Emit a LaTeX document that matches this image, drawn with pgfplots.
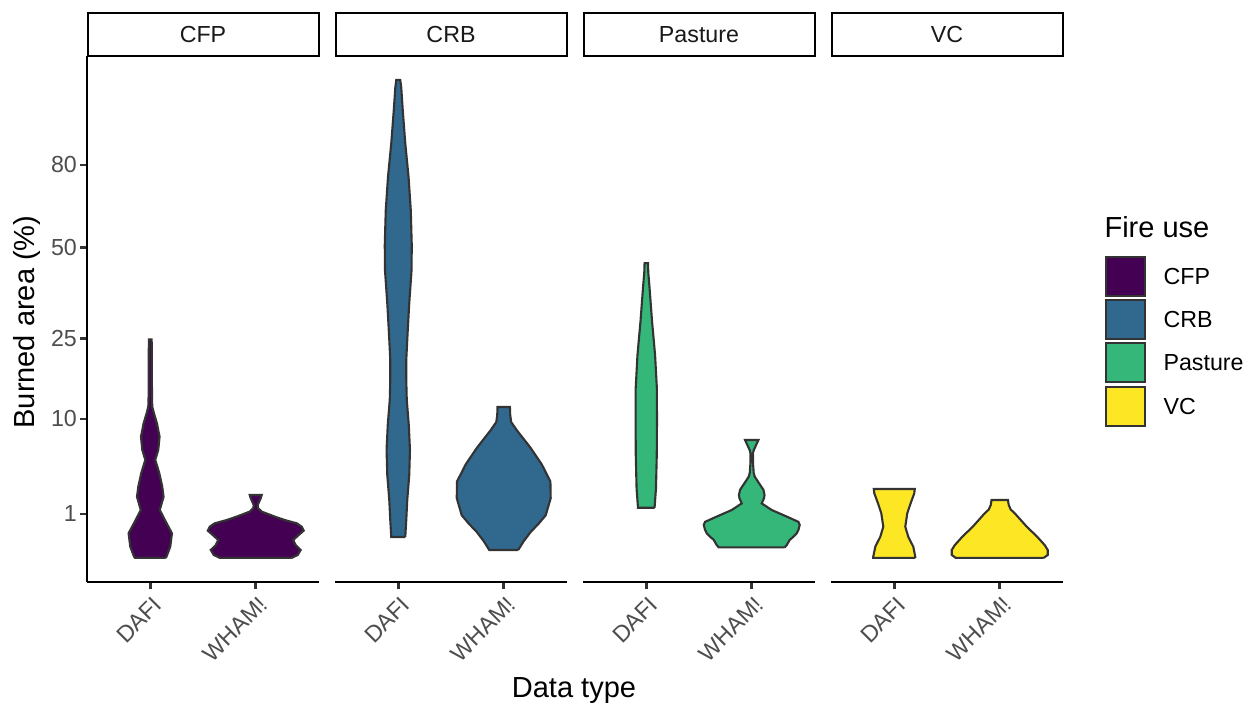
\documentclass[border=0pt]{standalone}
\usepackage{pgfplots}
\pgfplotsset{compat=1.18}
\usepackage{pgfplotstable}
\usepackage{fontspec}
\setmainfont{Liberation Sans}
\definecolor{cfp}{HTML}{440154}
\definecolor{crb}{HTML}{31688E}
\definecolor{pas}{HTML}{35B779}
\definecolor{vc}{HTML}{FDE725}
\definecolor{g20}{HTML}{333333}
\definecolor{g30}{HTML}{4D4D4D}
\newcommand\tfont{\fontsize{8.8}{10.5}\selectfont}
\newcommand\Tfont{\fontsize{11}{13}\selectfont}

% violin outlines: w = signed half width (px), s = sqrt(burned area %)
\pgfplotstableread{
w s
15.3 0
16.3 0.03
20 0.255
21.7 0.56
16.3 0.79
9.5 1.09
13.3 1.39
12 1.62
9 1.93
5 2.23
8 2.46
9.3 2.76
6.7 3.06
3.7 3.29
2 3.44
1.7 3.67
1.6 4.43
1.4 4.97
-1.4 4.97
-1.6 4.43
-1.7 3.67
-2 3.44
-3.7 3.29
-6.7 3.06
-9.3 2.76
-8 2.46
-5 2.23
-9 1.93
-12 1.62
-13.3 1.39
-9.5 1.09
-16.3 0.79
-21.7 0.56
-20 0.255
-16.3 0.03
-15.3 0
15.3 0
}\cfpdafi
\pgfplotstableread{
w s
36 0
42 0.066
45 0.18
40 0.29
37.5 0.407
43 0.52
48 0.62
46 0.71
41 0.787
29 0.862
19 0.94
6 1.053
2.5 1.129
2 1.204
3.5 1.28
5 1.356
6 1.432
-6 1.432
-5 1.356
-3.5 1.28
-2 1.204
-2.5 1.129
-6 1.053
-19 0.94
-29 0.862
-41 0.787
-46 0.71
-48 0.62
-43 0.52
-37.5 0.407
-40 0.29
-45 0.18
-42 0.066
-36 0
36 0
}\cfpwham
\pgfplotstableread{
w s
7 0.476
8 0.86
9 1.32
11 1.89
11.7 2.46
10.5 3.03
8.5 3.60
8 4.05
8 4.51
9.5 5.19
11 5.80
13.3 6.55
13.5 7.12
12.5 7.92
10.3 8.67
7 9.44
4.5 10.19
3 10.7
2 10.88
-2 10.88
-3 10.7
-4.5 10.19
-7 9.44
-10.3 8.67
-12.5 7.92
-13.5 7.12
-13.3 6.55
-11 5.80
-9.5 5.19
-8 4.51
-8 4.05
-8.5 3.60
-10.5 3.03
-11.7 2.46
-11 1.89
-9 1.32
-8 0.86
-7 0.476
7 0.476
}\crbdafi
\pgfplotstableread{
w s
14.5 0.18
20 0.38
27 0.59
35 0.78
42 0.97
47 1.36
46.7 1.74
38 2.13
26.7 2.51
13.3 2.90
7.5 3.09
6.5 3.25
6.2 3.435
-6.2 3.435
-6.5 3.25
-7.5 3.09
-13.3 2.90
-26.7 2.51
-38 2.13
-46.7 1.74
-47 1.36
-42 0.97
-35 0.78
-27 0.59
-20 0.38
-14.5 0.18
14.5 0.18
}\crbwham
\pgfplotstableread{
w s
8.3 1.14
9.7 1.58
10.5 2.34
10.7 3.10
10.6 3.86
8.8 4.62
5.8 5.38
3.3 6.14
2 6.5
1.7 6.71
-1.7 6.71
-2 6.5
-3.3 6.14
-5.8 5.38
-8.8 4.62
-10.6 3.86
-10.7 3.10
-10.5 2.34
-9.7 1.58
-8.3 1.14
8.3 1.14
}\pasdafi
\pgfplotstableread{
w s
33 0.24
35 0.29
38 0.41
41.7 0.48
45 0.56
46.7 0.635
48 0.75
46.7 0.82
35 0.94
20 1.09
10 1.24
12.3 1.36
12.8 1.43
11.7 1.55
6.7 1.72
3 1.85
2 1.93
1.3 2.15
1.2 2.38
2 2.45
5 2.60
6.7 2.684
-6.7 2.684
-5 2.60
-2 2.45
-1.2 2.38
-1.3 2.15
-2 1.93
-3 1.85
-6.7 1.72
-11.7 1.55
-12.8 1.43
-12.3 1.36
-10 1.24
-20 1.09
-35 0.94
-46.7 0.82
-48 0.75
-46.7 0.635
-45 0.56
-41.7 0.48
-38 0.41
-35 0.29
-33 0.24
33 0.24
}\paswham
\pgfplotstableread{
w s
21 0
21 0.03
19 0.255
14 0.48
11 0.71
13 1.015
16.3 1.24
20 1.47
20.5 1.568
-20.5 1.568
-20 1.47
-16.3 1.24
-13 1.015
-11 0.71
-14 0.48
-19 0.255
-21 0.03
-21 0
21 0
}\vcdafi
\pgfplotstableread{
w s
44 0
48 0.066
48 0.18
45 0.29
37.5 0.48
27 0.71
21 0.863
15 1.015
11 1.10
9 1.204
8.2 1.318
-8.2 1.318
-9 1.204
-11 1.10
-15 1.015
-21 0.863
-27 0.71
-37.5 0.48
-45 0.29
-48 0.18
-48 0.066
-44 0
44 0
}\vcwham

\pgfplotsset{
  panel/.style={
    scale only axis, width=87.905pt, height=199.30pt,
    xmin=0.4, xmax=2.6, ymin=-0.549, ymax=11.425,
    axis x line*=bottom,
    axis line style={line width=1pt, black, -},
    xtick={1,2}, xticklabels={DAFI,WHAM!},
    major tick length=2.65pt, tick align=outside,
    tick style={g20, line width=1pt},
    xticklabel style={rotate=45, anchor=north east, font=\tfont, text=g30, inner sep=1pt, yshift=-1pt},
    anchor=south west,
  },
  vio/.style={draw=g20, line width=0.8pt, fill=#1},
}

\begin{document}
\begin{tikzpicture}
\useasboundingbox (0,0) rectangle (474.76pt,-269.02pt);

\begin{axis}[panel, at={(32.964pt,-220.52pt)},
  axis y line*=left,
  ytick={1,3.1623,5,7.0711,8.9443}, yticklabels={1,10,25,50,80},
  yticklabel style={font=\tfont, text=g30, inner sep=1pt}]
\addplot[vio=cfp] table[x expr=1+\thisrow{w}/105.5, y=s] {\cfpdafi};
\addplot[vio=cfp] table[x expr=2+\thisrow{w}/105.5, y=s] {\cfpwham};
\end{axis}

\begin{axis}[panel, at={(126.93pt,-220.52pt)}, axis y line=none]
\addplot[vio=crb] table[x expr=1+\thisrow{w}/105.5, y=s] {\crbdafi};
\addplot[vio=crb] table[x expr=2+\thisrow{w}/105.5, y=s] {\crbwham};
\end{axis}

\begin{axis}[panel, at={(220.90pt,-220.52pt)}, axis y line=none]
\addplot[vio=pas] table[x expr=1+\thisrow{w}/105.5, y=s] {\pasdafi};
\addplot[vio=pas] table[x expr=2+\thisrow{w}/105.5, y=s] {\paswham};
\end{axis}

\begin{axis}[panel, at={(314.87pt,-220.52pt)}, axis y line=none]
\addplot[vio=vc] table[x expr=1+\thisrow{w}/105.5, y=s] {\vcdafi};
\addplot[vio=vc] table[x expr=2+\thisrow{w}/105.5, y=s] {\vcwham};
\end{axis}

\begin{scope}[x=0.3789pt, y=-0.3789pt]
  % strips
  \foreach \xa/\lab in {87/CFP, 335/CRB, 583/Pasture, 831/VC}{
    \draw[black, line width=0.9pt, fill=white] (\xa+1,13) rectangle (\xa+232,56);
    \node[font=\tfont, text={black!90}] at (\xa+116,35) {\lab};
  }
  % axis titles
  \node[font=\Tfont, rotate=90] at (27,322) {Burned area (\%)};
  \node[font=\Tfont] at (574,691) {Data type};
  % legend
  \node[font=\Tfont, anchor=west, inner sep=0pt] at (1104,227) {Fire use};
  \foreach \yy/\col/\lab in {256/cfp/CFP, 299/crb/CRB, 342/pas/Pasture, 386/vc/VC}{
    \draw[g20, line width=0.8pt, fill=\col] (1106,\yy+1) rectangle (1145,\yy+40);
    \node[font=\tfont, anchor=west, inner sep=0pt] at (1163,\yy+20.5) {\lab};
  }
\end{scope}
\end{tikzpicture}
\end{document}
